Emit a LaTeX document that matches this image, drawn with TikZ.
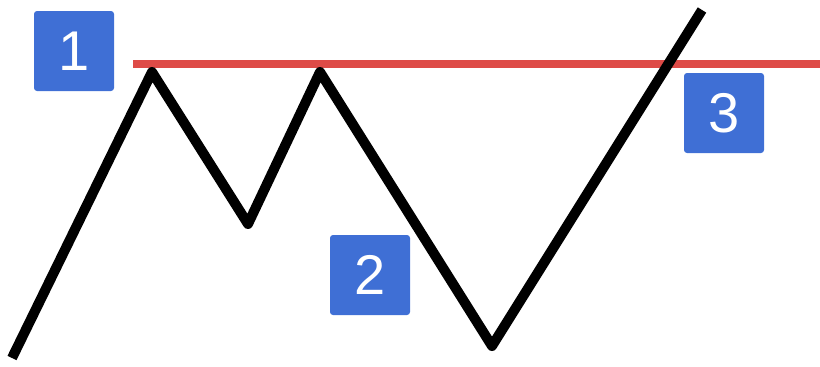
\documentclass[tikz,border=0pt]{standalone}
\usepackage{fontspec}
\setmainfont{Liberation Sans}
\usetikzlibrary{positioning}
\definecolor{boxblue}{HTML}{3F6FD5}
\definecolor{levelred}{HTML}{DE4B47}

\begin{document}
\begin{tikzpicture}[x=1pt,y=-1pt,
  numbox/.style={rectangle,fill=boxblue,rounded corners=3pt,minimum width=80pt,minimum height=80pt,
    inner sep=0pt,text=white,font=\fontsize{56}{56}\selectfont},
  zig/.style={line width=10pt,black,line join=round},
  level/.style={line width=8pt,levelred}]
\useasboundingbox (0,0) rectangle (820,367);
% price path
\coordinate (A) at (12,358);
\coordinate (P1) at (152,72);
\coordinate (T1) at (248,224);
\coordinate (P2) at (320,72);
\coordinate (T2) at (492,346);
\coordinate (E) at (702,10);
% resistance level
\coordinate (R0) at (133,64);
\coordinate (R1) at (820,64);
\draw[level] (R0) -- (R1);
\draw[zig] (A) -- (P1) -- (T1) -- (P2) -- (T2) -- (E);
% labels
\node[numbox] (N1) at (74,51) {1};
\node[numbox] (N2) at (370,275) {2};
\node[numbox] (N3) at (724,113) {3};
\end{tikzpicture}
\end{document}
